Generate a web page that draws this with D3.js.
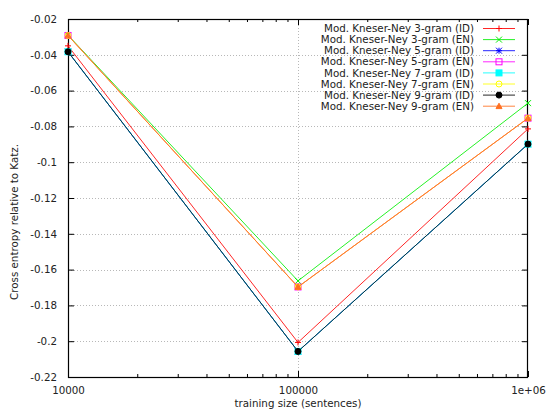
<!DOCTYPE html>
<html>
<head>
<meta charset="utf-8">
<script src="https://cdn.jsdelivr.net/npm/d3@7"></script>
<style>
  html, body { margin: 0; padding: 0; background: #fff; }
  svg { display: block; }
  text { font-family: "DejaVu Sans", sans-serif; font-size: 10.3px; fill: #222; }
</style>
</head>
<body>
<svg id="chart" width="548" height="410"></svg>
<script>
// Training sizes (sentences) on a log axis
const sizes = [10000, 100000, 1000000];

// Cross entropy relative to Katz, one array per model
const kn3ID = [-0.0350, -0.2007, -0.0814];
const kn3EN = [-0.0290, -0.1663, -0.0670];
const kn5ID = [-0.0383, -0.2057, -0.0899];
const kn5EN = [-0.0292, -0.1697, -0.0754];
const kn7ID = [-0.0383, -0.2057, -0.0899];
const kn7EN = [-0.0292, -0.1697, -0.0754];
const kn9ID = [-0.0383, -0.2057, -0.0899];
const kn9EN = [-0.0292, -0.1697, -0.0754];

const seriesNames = [
  "Mod. Kneser-Ney 3-gram (ID)",
  "Mod. Kneser-Ney 3-gram (EN)",
  "Mod. Kneser-Ney 5-gram (ID)",
  "Mod. Kneser-Ney 5-gram (EN)",
  "Mod. Kneser-Ney 7-gram (ID)",
  "Mod. Kneser-Ney 7-gram (EN)",
  "Mod. Kneser-Ney 9-gram (ID)",
  "Mod. Kneser-Ney 9-gram (EN)"
];
const seriesValues = [kn3ID, kn3EN, kn5ID, kn5EN, kn7ID, kn7EN, kn9ID, kn9EN];
const seriesColors = ["#ff0000", "#00ee00", "#0000ff", "#ff00ff", "#00ffff", "#ffff00", "#000000", "#ff7020"];
const seriesMarkers = ["plus", "cross", "star", "squareOpen", "squareFilled", "circleOpen", "circleFilled", "triangleFilled"];

const yTicks = [-0.22, -0.2, -0.18, -0.16, -0.14, -0.12, -0.1, -0.08, -0.06, -0.04, -0.02];
const yTickLabels = ["-0.22", "-0.2", "-0.18", "-0.16", "-0.14", "-0.12", "-0.1", "-0.08", "-0.06", "-0.04", "-0.02"];
const xTicks = [10000, 100000, 1000000];
const xTickLabels = ["10000", "100000", "1e+06"];
const xMinorTicks = [2e4, 3e4, 4e4, 5e4, 6e4, 7e4, 8e4, 9e4, 2e5, 3e5, 4e5, 5e5, 6e5, 7e5, 8e5, 9e5];

const L = 68, R = 528, T = 19, B = 377;
const svg = d3.select("#chart");
const x = d3.scaleLog().domain([1e4, 1e6]).range([L, R]);
const y = d3.scaleLinear().domain([-0.22, -0.02]).range([B, T]);

// grid
const grid = svg.append("g").attr("stroke", "#b8b8b8").attr("stroke-width", 1)
  .attr("stroke-dasharray", "1,2");
grid.selectAll("line.h").data(yTicks.slice(1, -1)).join("line")
  .attr("x1", L).attr("x2", R)
  .attr("y1", d => Math.round(y(d)) + 0.5).attr("y2", d => Math.round(y(d)) + 0.5);
grid.selectAll("line.v").data(xTicks.slice(1, -1)).join("line")
  .attr("y1", T).attr("y2", B)
  .attr("x1", d => Math.round(x(d)) + 0.5).attr("x2", d => Math.round(x(d)) + 0.5);

// axes: ticks inward, mirrored on the opposite sides
const axisLeft = d3.axisLeft(y).tickValues(yTicks).tickSize(-6).tickFormat((d, i) => yTickLabels[i]).tickPadding(11);
const axisRight = d3.axisRight(y).tickValues(yTicks).tickSize(-6).tickFormat("");
const axisBottom = d3.axisBottom(x).tickValues(xTicks).tickSize(-6).tickFormat((d, i) => xTickLabels[i]).tickPadding(10);
const axisTop = d3.axisTop(x).tickValues(xTicks).tickSize(-6).tickFormat("");
const minorBottom = d3.axisBottom(x).tickValues(xMinorTicks).tickSize(-3).tickFormat("");
const minorTop = d3.axisTop(x).tickValues(xMinorTicks).tickSize(-3).tickFormat("");

function styleAxis(g) {
  g.select(".domain").remove();
  g.selectAll(".tick line").attr("stroke", "#000");
  g.selectAll(".tick text").attr("font-family", "DejaVu Sans, sans-serif").attr("font-size", "10.3px").attr("fill", "#222");
}
svg.append("g").attr("transform", `translate(${L},0)`).call(axisLeft).call(styleAxis);
svg.append("g").attr("transform", `translate(${R},0)`).call(axisRight).call(styleAxis);
svg.append("g").attr("transform", `translate(0,${B})`).call(axisBottom).call(styleAxis);
svg.append("g").attr("transform", `translate(0,${T})`).call(axisTop).call(styleAxis);
svg.append("g").attr("transform", `translate(0,${B})`).call(minorBottom).call(styleAxis);
svg.append("g").attr("transform", `translate(0,${T})`).call(minorTop).call(styleAxis);

// frame
svg.append("rect").attr("x", L + 0.5).attr("y", T + 0.5).attr("width", R - L - 1).attr("height", B - T)
  .attr("fill", "none").attr("stroke", "#000").attr("stroke-width", 1.2);

// axis titles
svg.append("text").attr("x", (L + R) / 2).attr("y", 407).attr("text-anchor", "middle")
  .text("training size (sentences)");
svg.append("text").attr("transform", "translate(18,222) rotate(-90)").attr("text-anchor", "middle")
  .text("Cross entropy relative to Katz.");

// marker drawing
function drawMarker(g, type, color, cx, cy) {
  const s = 3;
  const m = g.append("g").attr("transform", `translate(${cx},${cy})`);
  if (type === "plus") {
    m.append("path").attr("d", `M${-s},0H${s}M0,${-s}V${s}`).attr("stroke", color).attr("fill", "none");
  } else if (type === "cross") {
    m.append("path").attr("d", `M${-s},${-s}L${s},${s}M${-s},${s}L${s},${-s}`).attr("stroke", color).attr("fill", "none");
  } else if (type === "star") {
    m.append("path").attr("d", `M${-s},0H${s}M0,${-s}V${s}M${-s},${-s}L${s},${s}M${-s},${s}L${s},${-s}`).attr("stroke", color).attr("fill", "none");
  } else if (type === "squareOpen") {
    m.append("rect").attr("x", -s).attr("y", -s).attr("width", 2 * s).attr("height", 2 * s).attr("stroke", color).attr("fill", "none");
  } else if (type === "squareFilled") {
    m.append("rect").attr("x", -s).attr("y", -s).attr("width", 2 * s).attr("height", 2 * s).attr("stroke", color).attr("fill", color);
  } else if (type === "circleOpen") {
    m.append("circle").attr("r", s).attr("stroke", color).attr("fill", "none");
  } else if (type === "circleFilled") {
    m.append("circle").attr("r", s).attr("stroke", color).attr("fill", color);
  } else if (type === "triangleFilled") {
    m.append("path").attr("d", `M0,${-s}L${s},${s * 0.8}L${-s},${s * 0.8}Z`).attr("stroke", color).attr("fill", color);
  }
}

// series lines and points
const line = d3.line().x((d, i) => x(sizes[i])).y(d => y(d));
const plot = svg.append("g");
seriesValues.forEach((vals, k) => {
  plot.append("path").datum(vals).attr("d", line)
    .attr("fill", "none").attr("stroke", seriesColors[k]).attr("stroke-width", 1)
    .attr("stroke-opacity", k === 6 ? 0.75 : 0.85);
  vals.forEach((v, i) => drawMarker(plot, seriesMarkers[k], seriesColors[k], x(sizes[i]), y(v)));
});

// legend
const legend = svg.append("g");
seriesNames.forEach((name, k) => {
  const ly = 28.5 + k * 11.1;
  legend.append("text").attr("x", 474).attr("y", ly).attr("dy", "0.35em").attr("text-anchor", "end").text(name);
  legend.append("line").attr("x1", 483).attr("x2", 515).attr("y1", ly).attr("y2", ly)
    .attr("stroke", seriesColors[k]).attr("stroke-width", 1).attr("stroke-opacity", 0.85);
  drawMarker(legend, seriesMarkers[k], seriesColors[k], 499, ly);
});
</script>
</body>
</html>
